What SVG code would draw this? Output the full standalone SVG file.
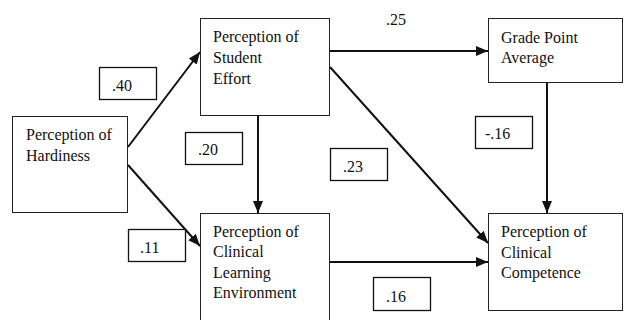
<svg xmlns="http://www.w3.org/2000/svg" width="624" height="320" viewBox="0 0 624 320">
  <style>
    .box { fill: #fff; stroke: #222; stroke-width: 1; }
    .lbl { fill: #fff; stroke: #111; stroke-width: 1.3; }
    .t { font-family: 'Liberation Serif', Tinos, 'Noto Serif', 'DejaVu Serif', FreeSerif, 'Nimbus Roman', 'Nimbus Roman No9 L', 'Times New Roman', Times, serif; font-size: 16px; fill: #111; }
    .edge { stroke: #111; stroke-width: 2; fill: none; marker-end: url(#arrow); }
  </style>
  <defs>
    <marker id="arrow" markerUnits="userSpaceOnUse" markerWidth="12" markerHeight="12" viewBox="0 0 12 12" refX="12" refY="6" orient="auto">
      <path d="M0,1 L12,6 L0,11 Z" fill="#111"/>
    </marker>
  </defs>

  <g id="connectors">
    <line class="edge" x1="128" y1="147" x2="200" y2="52"/>
    <line class="edge" x1="128" y1="165" x2="200" y2="246"/>
    <line class="edge" x1="330" y1="51" x2="488" y2="51"/>
    <line class="edge" x1="258" y1="116" x2="258" y2="213"/>
    <line class="edge" x1="330" y1="67" x2="488" y2="243"/>
    <line class="edge" x1="547" y1="83" x2="547" y2="213"/>
    <line class="edge" x1="330" y1="262" x2="488" y2="262"/>
  </g>

  <g id="hardiness">
    <rect class="box" x="12.5" y="116.5" width="115" height="96"/>
    <text class="t" x="26" y="140">Perception of</text>
    <text class="t" x="26" y="161">Hardiness</text>
  </g>

  <g id="student-effort">
    <rect class="box" x="200.5" y="18.5" width="129" height="97"/>
    <text class="t" x="213" y="42">Perception of</text>
    <text class="t" x="213" y="63">Student</text>
    <text class="t" x="213" y="84">Effort</text>
  </g>

  <g id="gpa">
    <rect class="box" x="488.5" y="18.5" width="134" height="64"/>
    <text class="t" x="501" y="43">Grade Point</text>
    <text class="t" x="501" y="63">Average</text>
  </g>

  <g id="learning-environment">
    <rect class="box" x="200.5" y="213.5" width="129" height="110"/>
    <text class="t" x="213" y="237">Perception of</text>
    <text class="t" x="213" y="257">Clinical</text>
    <text class="t" x="213" y="278">Learning</text>
    <text class="t" x="213" y="298">Environment</text>
  </g>

  <g id="competence">
    <rect class="box" x="488.5" y="213.5" width="134" height="97"/>
    <text class="t" x="501" y="237">Perception of</text>
    <text class="t" x="501" y="258">Clinical</text>
    <text class="t" x="501" y="278">Competence</text>
  </g>

  <g id="coefficients">
    <rect class="lbl" x="99.5" y="67.5" width="57" height="32"/>
    <text class="t" x="112" y="91">.40</text>
    <rect class="lbl" x="185.5" y="132.5" width="57" height="32"/>
    <text class="t" x="198" y="155">.20</text>
    <text class="t" x="386" y="25">.25</text>
    <rect class="lbl" x="475.5" y="116.5" width="57" height="32"/>
    <text class="t" x="485" y="139">-.16</text>
    <rect class="lbl" x="330.5" y="148.5" width="57" height="32"/>
    <text class="t" x="343" y="172">.23</text>
    <rect class="lbl" x="128.5" y="229.5" width="57" height="32"/>
    <text class="t" x="140" y="253">.11</text>
    <rect class="lbl" x="373.5" y="277.5" width="57" height="33"/>
    <text class="t" x="386" y="302">.16</text>
  </g>
</svg>
